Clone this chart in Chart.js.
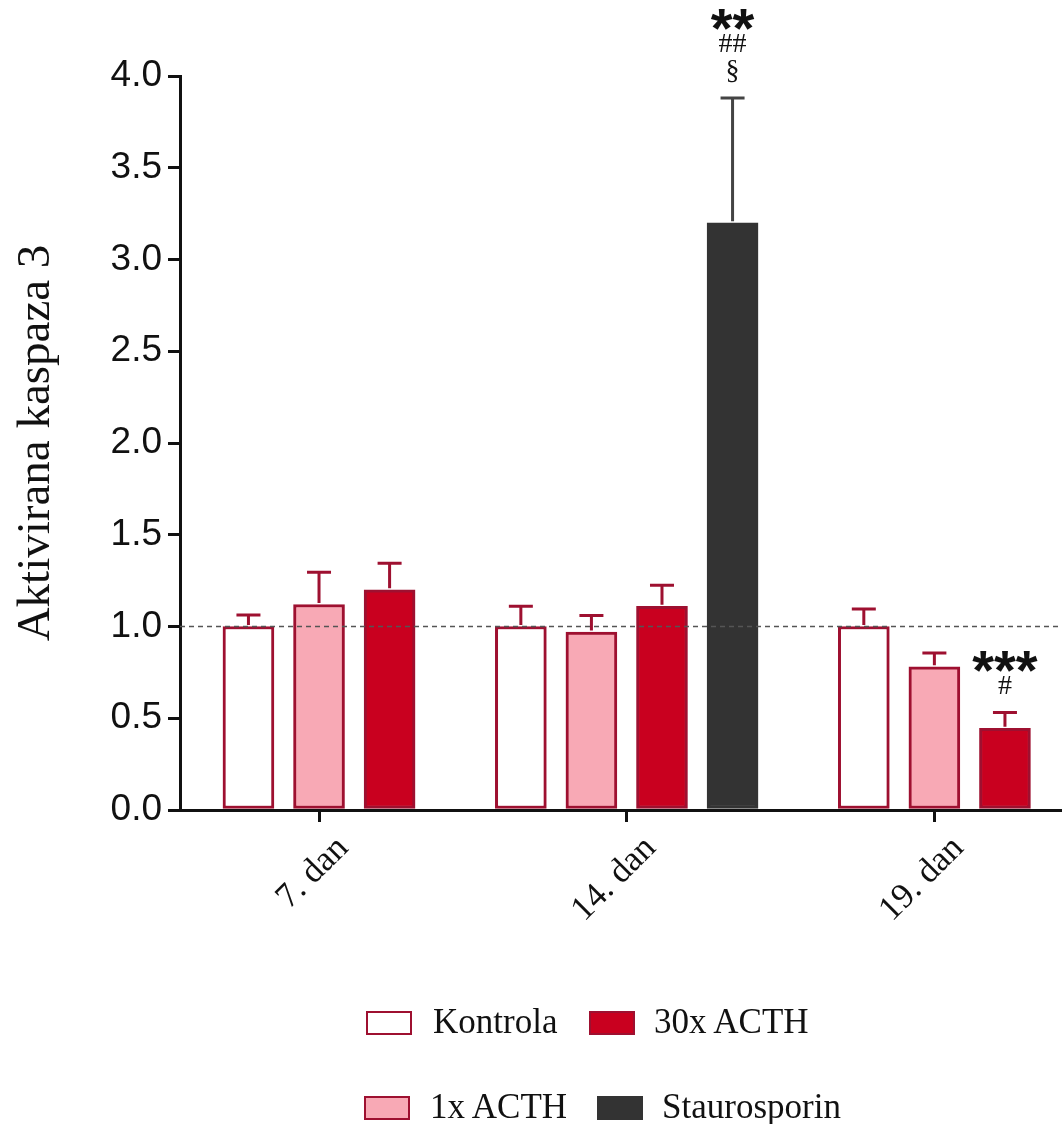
<!DOCTYPE html>
<html>
<head>
<meta charset="utf-8">
<script src="https://cdn.jsdelivr.net/npm/chart.js@4.4.1/dist/chart.umd.min.js"></script>
<style>
  html, body { margin: 0; padding: 0; background: #fff; }
  #wrap { position: relative; width: 1062px; height: 1124px; }
  .leg { position: absolute; font-family: "Liberation Serif", serif; font-size: 35px; color: #111; line-height: 1; }
  .box { position: absolute; width: 42px; height: 20px; border: 2px solid #9e1030; }
</style>
</head>
<body>
<div id="wrap">
  <canvas id="chart"></canvas>
  <div class="box" style="left:366px;top:1011px;background:#fff"></div>
  <div class="leg" style="left:433px;top:1004px">Kontrola</div>
  <div class="box" style="left:589px;top:1011px;background:#c9001f"></div>
  <div class="leg" style="left:654px;top:1004px">30x ACTH</div>
  <div class="box" style="left:364px;top:1096px;background:#f8a9b5"></div>
  <div class="leg" style="left:430px;top:1089px">1x ACTH</div>
  <div class="box" style="left:597px;top:1096px;background:#333;border-color:#333"></div>
  <div class="leg" style="left:662px;top:1089px">Staurosporin</div>
</div>
<script>
const days = ['7. dan', '14. dan', '19. dan'];
const groups = ['Kontrola', '1x ACTH', '30x ACTH', 'Staurosporin'];

const kontrola = [1.00, 1.00, 1.00];
const acth1 = [1.12, 0.97, 0.78];
const acth30 = [1.20, 1.11, 0.445];
const stauro = [null, 3.20, null];

// upper error (SEM) above each bar
const kontrolaErr = [0.063, 0.11, 0.095];
const acth1Err = [0.175, 0.09, 0.075];
const acth30Err = [0.145, 0.115, 0.086];
const stauroErr = [null, 0.68, null];

const yTicks = [0, 0.5, 1.0, 1.5, 2.0, 2.5, 3.0, 3.5, 4.0];
const refLine = 1.0;

// significance marks, listed from the bar upward
const marks = [
    { day: 1, group: 3, lines: ['§', '##', '**'] },
    { day: 2, group: 2, lines: ['#', '***'] }
];

const values = [kontrola, acth1, acth30, stauro];
const errors = [kontrolaErr, acth1Err, acth30Err, stauroErr];
const fills = ['#ffffff', '#f8a9b5', '#c9001f', '#333333'];
const borders = ['#9e1030', '#9e1030', '#9e1030', '#333333'];
const whisker = ['#9e1030', '#9e1030', '#9e1030', '#444444'];

// x position of every bar: bars of a day sit one unit apart, days separated by a gap
const dayGap = 1.86;
const dayStart = [];
const dayCenter = [];
days.forEach(function (d, i) {
    const n = values.filter(v => v[i] != null).length;
    dayStart[i] = i === 0 ? 0 : dayStart[i - 1] + values.filter(v => v[i - 1] != null).length - 1 + dayGap;
    dayCenter[i] = dayStart[i] + (n - 1) / 2;
});
function barX(g, d) {
    let k = 0;
    for (let j = 0; j < g; j++) if (values[j][d] != null) k++;
    return dayStart[d] + k;
}

const datasets = groups.map(function (name, g) {
    const pts = [];
    values[g].forEach(function (v, d) {
        if (v != null) pts.push({ x: barX(g, d), y: v, err: errors[g][d] });
    });
    return {
        label: name,
        data: pts,
        backgroundColor: fills[g],
        borderColor: borders[g],
        borderWidth: 3,
        borderSkipped: false,
        grouped: false,
        barThickness: 51
    };
});

const extras = {
    id: 'extras',
    afterDatasetsDraw(chart) {
        const ctx = chart.ctx;
        const xs = chart.scales.x, ys = chart.scales.y;
        const area = chart.chartArea;
        ctx.save();
        // error bars
        datasets.forEach(function (ds, g) {
            ds.data.forEach(function (p) {
                const x = xs.getPixelForValue(p.x);
                const y0 = ys.getPixelForValue(p.y);
                const y1 = ys.getPixelForValue(p.y + p.err);
                ctx.strokeStyle = whisker[g];
                ctx.lineWidth = 3;
                ctx.beginPath();
                ctx.moveTo(x, y0 - 1.5);
                ctx.lineTo(x, y1);
                ctx.moveTo(x - 12, y1);
                ctx.lineTo(x + 12, y1);
                ctx.stroke();
            });
        });
        // reference line
        const yr = ys.getPixelForValue(refLine);
        ctx.strokeStyle = '#555';
        ctx.lineWidth = 1.5;
        ctx.setLineDash([5, 4]);
        ctx.beginPath();
        ctx.moveTo(area.left, yr);
        ctx.lineTo(area.right, yr);
        ctx.stroke();
        ctx.setLineDash([]);
        // significance marks
        ctx.textAlign = 'center';
        ctx.textBaseline = 'middle';
        ctx.fillStyle = '#111';
        marks.forEach(function (m) {
            const x = xs.getPixelForValue(barX(m.group, m.day));
            const top = ys.getPixelForValue(values[m.group][m.day] + errors[m.group][m.day]);
            m.lines.forEach(function (t, i) {
                if (t.indexOf('*') >= 0) {
                    ctx.font = 'bold 56px "Liberation Sans", Arial, sans-serif';
                    ctx.fillText(t, x, top - 26 - i * 27 + 14);
                } else {
                    ctx.font = '28px "Liberation Serif", serif';
                    ctx.fillText(t, x, top - 26 - i * 27);
                }
            });
        });
        ctx.restore();
    }
};

new Chart(document.getElementById('chart'), {
    type: 'bar',
    data: { datasets: datasets },
    options: {
        responsive: true,
        maintainAspectRatio: false,
        animation: false,
        layout: { padding: { top: 76, right: 2, bottom: 164, left: 0 } },
        plugins: { legend: { display: false }, tooltip: { enabled: false } },
        scales: {
            x: {
                type: 'linear',
                min: -0.97,
                max: 11.5,
                offset: false,
                afterBuildTicks: function (scale) {
                    scale.ticks = dayCenter.map(v => ({ value: v }));
                },
                afterFit: function (scale) { scale.height = 150; },
                ticks: {
                    autoSkip: false,
                    minRotation: 45,
                    maxRotation: 45,
                    labelOffset: 24,
                    padding: 6,
                    color: '#111',
                    font: { family: '"Liberation Serif", serif', size: 35 },
                    callback: (v, i) => days[i]
                },
                grid: { offset: false, drawOnChartArea: false, tickLength: 12, color: '#111', lineWidth: 3 },
                border: { color: '#111', width: 3 }
            },
            y: {
                min: 0,
                max: 4,
                afterBuildTicks: function (scale) {
                    scale.ticks = yTicks.map(v => ({ value: v }));
                },
                afterFit: function (scale) { scale.width = 180; },
                ticks: {
                    padding: 6,
                    color: '#111',
                    font: { family: '"Liberation Sans", Arial, sans-serif', size: 37 },
                    callback: v => v.toFixed(1)
                },
                grid: { drawOnChartArea: false, tickLength: 12, color: '#111', lineWidth: 3 },
                border: { color: '#111', width: 3 },
                title: {
                    display: true,
                    text: 'Aktivirana kaspaza 3',
                    color: '#111',
                    padding: { top: 8, bottom: 0 },
                    font: { family: '"Liberation Serif", serif', size: 47 }
                }
            }
        }
    },
    plugins: [extras]
});
</script>
</body>
</html>
